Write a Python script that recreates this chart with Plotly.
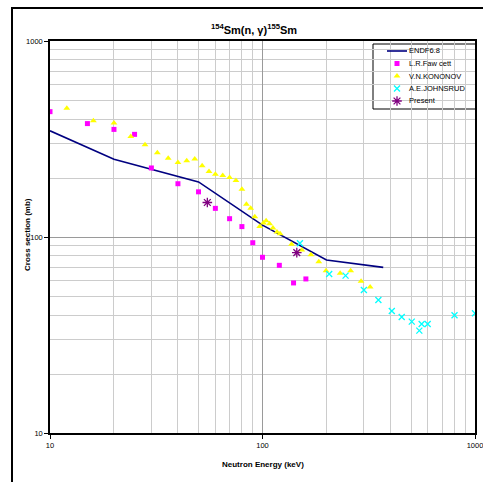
import plotly.graph_objects as go

# ENDF/B evaluated capture cross section
endf_e = [10, 20, 50, 100, 200, 370]
endf_xs = [348, 249, 191, 115, 76.3, 70]

# L.R. Fawcett measurement
faw_e = [10, 15, 20, 25, 30, 40, 50, 60, 70, 80, 90, 100, 120, 140, 160]
faw_xs = [436, 379, 354, 334, 225, 187, 170, 140, 124, 113, 93.5, 78.8, 71.7, 58.3, 61.1]

# V.N. Kononov measurement
kon_e = [12, 16, 20, 24, 28, 32, 36, 40, 44, 48, 52, 56, 60, 65, 70, 75, 80, 84, 88,
         92, 97, 101, 104, 108, 112, 117, 121, 137, 153, 169, 184, 199, 232, 260, 291, 321]
kon_xs = [454, 392, 382, 326, 296, 269, 252, 240, 245, 250, 231, 216, 209, 206, 201, 194,
          175, 147, 140, 127, 113, 118, 121, 117, 111, 106, 104, 91.8, 85.8, 81.2, 74.8,
          67.3, 65.3, 67.3, 59.4, 55.6]

# A.E. Johnsrud measurement
joh_e = [150, 206, 246, 300, 351, 406, 452, 504, 547, 561, 599, 801, 1000]
joh_xs = [92.9, 64.8, 63.5, 53.7, 47.7, 41.9, 39.1, 37.0, 33.3, 36.0, 36.0, 39.9, 40.8]

# Present work
pres_e = [55, 145]
pres_xs = [150, 83.2]

series_names = ["ENDF6.8", "L.R.Faw cett", "V.N.KONONOV", "A.E.JOHNSRUD", "Present"]

FONT = "Liberation Sans, Arial, sans-serif"
W, H = 483, 482
L, R, T, B = 50, 8, 41, 49
PW, PH = W - L - R, H - T - B


def px(x):
    """pixel column -> paper x"""
    return (x - L) / PW


def py(y):
    """pixel row -> paper y"""
    return (H - B - y) / PH


line_style = dict(color="#000080", width=1.6)
marker_styles = [
    dict(symbol="square", color="#FF00FF", size=5),
    dict(symbol="triangle-up", color="#FFFF00", size=6),
    dict(symbol="x-thin-open", color="#00FFFF", size=6, line=dict(color="#00FFFF", width=1.3)),
    dict(symbol="asterisk-open", color="#800080", size=8, line=dict(color="#800080", width=1.3)),
]

fig = go.Figure()
fig.add_trace(go.Scatter(x=endf_e, y=endf_xs, mode="lines", name=series_names[0],
                         line=line_style, showlegend=False))
for (ex, ey), name, ms in zip([(faw_e, faw_xs), (kon_e, kon_xs), (joh_e, joh_xs), (pres_e, pres_xs)],
                              series_names[1:], marker_styles):
    fig.add_trace(go.Scatter(x=ex, y=ey, mode="markers", name=name, marker=ms, showlegend=False))

axis_common = dict(
    type="log", automargin=False,
    showline=True, linecolor="black", linewidth=1.5, mirror=True,
    gridcolor="#9a9a9a", gridwidth=1,
    ticks="outside", ticklen=4, tickcolor="black",
    tickfont=dict(family=FONT, size=7.5, color="black"),
    ticklabeloverflow="allow",
    zeroline=False,
    minor=dict(dtick="D1", showgrid=True, gridcolor="#cccccc", gridwidth=1, ticks=""),
    dtick=1,
)

# ---- legend box, with its symbols on an overlay axis spanning the plot area in paper units ----
leg_left, leg_right, leg_top, leg_bot = 373, 476, 44, 109
row_y = [51, 63.5, 76, 88.5, 101]
sym_x, text_x = 397, 407

fig.add_shape(type="rect", xref="paper", yref="paper",
              x0=px(leg_left), x1=px(leg_right), y0=py(leg_bot), y1=py(leg_top),
              line=dict(color="black", width=1), fillcolor="white", layer="between")
fig.add_shape(type="line", xref="paper", yref="paper",
              x0=px(387), x1=px(407), y0=py(row_y[0]), y1=py(row_y[0]),
              line=line_style, layer="above")
for ry, ms in zip(row_y[1:], marker_styles):
    fig.add_trace(go.Scatter(x=[px(sym_x)], y=[py(ry)], mode="markers", marker=ms,
                             xaxis="x2", yaxis="y2", showlegend=False, hoverinfo="skip"))
for ry, name in zip(row_y, series_names):
    fig.add_annotation(text=name, xref="paper", yref="paper", x=px(text_x), y=py(ry),
                       xanchor="left", yanchor="middle", showarrow=False,
                       font=dict(family=FONT, size=7.5, color="black"))

# axis titles
fig.add_annotation(text="<b>Neutron Energy (keV)</b>", xref="paper", yref="paper",
                   x=px(263), y=py(464), xanchor="center", yanchor="middle", showarrow=False,
                   font=dict(family=FONT, size=8, color="black"))
fig.add_annotation(text="<b>Cross section (mb)</b>", xref="paper", yref="paper",
                   x=px(27), y=py(235), xanchor="center", yanchor="middle", showarrow=False,
                   textangle=-90, font=dict(family=FONT, size=8, color="black"))

fig.update_layout(
    width=W, height=H,
    margin=dict(l=L, r=R, t=T, b=B),
    paper_bgcolor="white", plot_bgcolor="white",
    showlegend=False,
    title=dict(text="<b><sup>154</sup>Sm(n, γ)<sup>155</sup>Sm</b>",
               x=254 / W, xanchor="center", y=1 - 30 / H, yanchor="middle",
               font=dict(family=FONT, size=11, color="black")),
    xaxis=dict(axis_common, range=[1, 3]),
    yaxis=dict(axis_common, range=[1, 3]),
    xaxis2=dict(overlaying="x", range=[0, 1], visible=False, fixedrange=True),
    yaxis2=dict(overlaying="y", range=[0, 1], visible=False, fixedrange=True),
)

# outer chart frame
fig.add_shape(type="rect", xref="paper", yref="paper",
              x0=px(12), x1=px(495), y0=py(495), y1=py(8),
              line=dict(color="black", width=2), layer="below")

fig.write_html("out.html")
